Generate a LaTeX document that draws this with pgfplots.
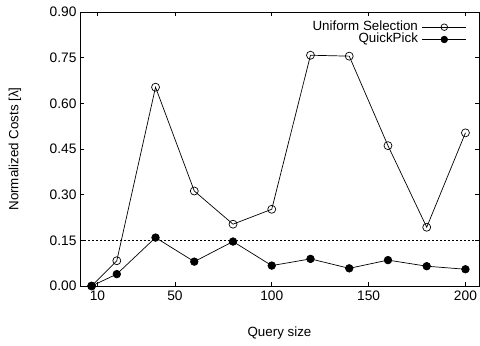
\documentclass[border=0pt]{standalone}
\usepackage{pgfplots}
\pgfplotsset{compat=1.18}
\usepackage{fontspec}
\setmainfont{Liberation Sans}

\begin{document}
\begin{tikzpicture}
\begin{axis}[
  scale only axis,
  width=399bp, height=274bp,
  xmin=1, xmax=207,
  ymin=0, ymax=0.9,
  xtick={10,50,100,150,200},
  ytick={0,0.15,0.3,0.45,0.6,0.75,0.9},
  yticklabel style={/pgf/number format/.cd,fixed,fixed zerofill,precision=2},
  xticklabel style={yshift=-1bp},
  /pgf/number format/assume math mode=true,
  tick label style={font=\fontsize{13.8}{16}\selectfont},
  label style={font=\fontsize{13.4}{16}\selectfont},
  major tick length=4bp,
  tick style={black, line width=0.6bp},
  axis line style={line width=0.8bp},
  xlabel={Query size},
  ylabel={Normalized Costs [λ]},
  xlabel style={at={(axis description cs:0.5,-0.172)}, anchor=center},
  ylabel style={at={(axis description cs:-0.163,0.5)}, anchor=center},
  legend style={at={(0.977,0.975)}, anchor=north east, draw=none, fill=none,
    font=\fontsize{13.4}{16}\selectfont, row sep=0pt, column sep=4bp,
    nodes={inner sep=0pt, text height=9.5bp, text depth=2.8bp}},
  legend cell align=right,
  legend plot pos=right,
  legend image code/.code={%
    \draw[mark repeat=2,mark phase=2, mark size=3.3bp] plot coordinates {(0bp,0bp) (22bp,0bp) (44bp,0bp)};},
]
\addplot[black, line width=0.7bp, mark=o, mark size=4bp, mark options={solid, line width=0.7bp, fill=white}]
  coordinates {(7,0.0) (20,0.083) (40,0.653) (60,0.312) (80,0.203) (100,0.252)
               (120,0.758) (140,0.755) (160,0.461) (180,0.193) (200,0.503)};
\addlegendentry{Uniform Selection}
\addplot[black, line width=0.7bp, mark=*, mark size=3.8bp, mark options={solid, fill=black}]
  coordinates {(7,0.0) (20,0.039) (40,0.159) (60,0.080) (80,0.146) (100,0.067)
               (120,0.089) (140,0.058) (160,0.085) (180,0.065) (200,0.055)};
\addlegendentry{QuickPick}
% reference level
\addplot[black, line width=0.7bp, dash pattern=on 2bp off 2bp, forget plot]
  coordinates {(1,0.15) (207,0.15)};
\end{axis}
\pgfresetboundingbox
\path[use as bounding box] ([shift={(-80bp,-60bp)}]current axis.south west)
  rectangle ([shift={(1bp,12bp)}]current axis.north east);
\end{tikzpicture}
\end{document}
